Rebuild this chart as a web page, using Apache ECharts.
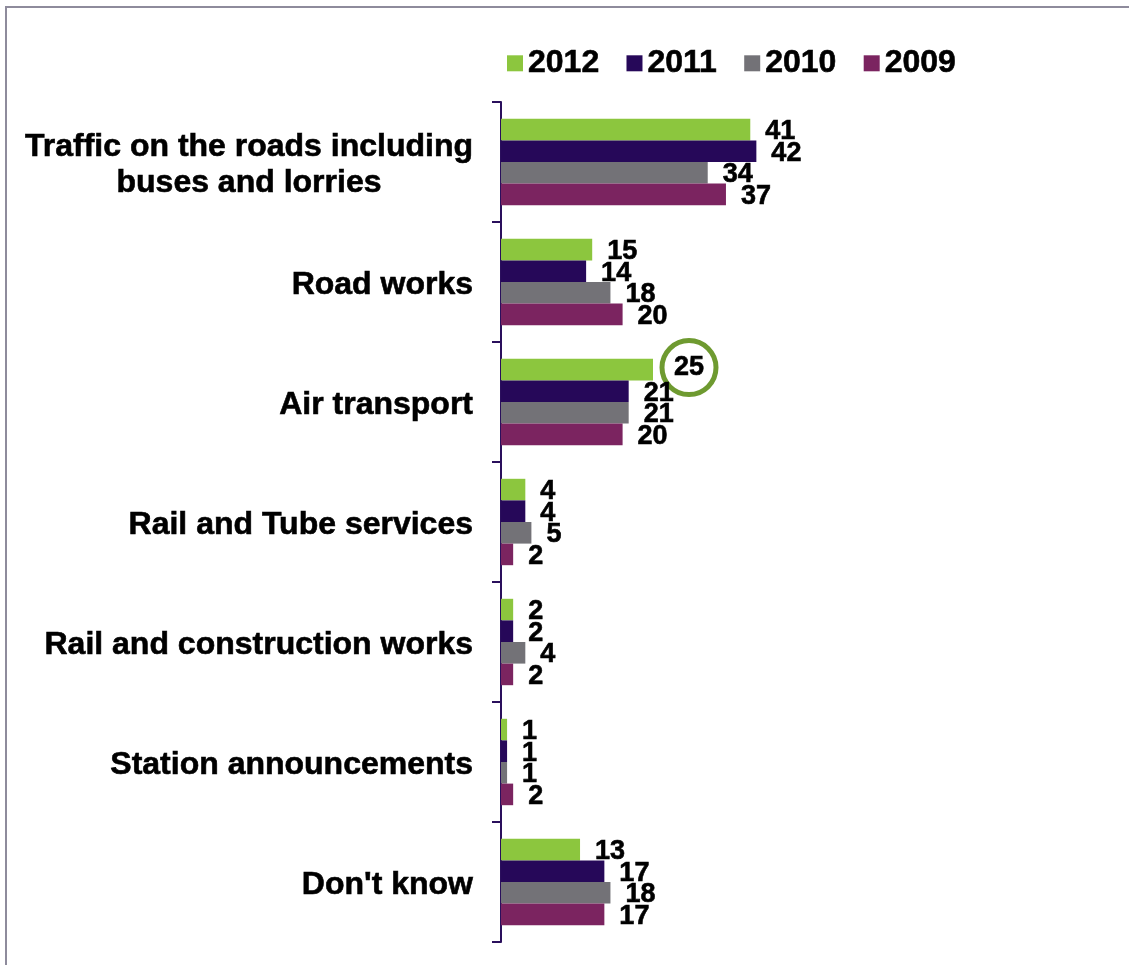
<!DOCTYPE html>
<html>
<head>
<meta charset="utf-8">
<script src="https://cdn.jsdelivr.net/npm/echarts@6/dist/echarts.min.js"></script>
<style>
  html, body { margin: 0; padding: 0; background: #fff; }
  #chart { width: 1129px; height: 965px; }
</style>
</head>
<body>
<div id="chart"></div>
<script>
// Sources of noise people notice, by survey year (%)
const categories = [
  'Traffic on the roads including\nbuses and lorries',
  'Road works',
  'Air transport',
  'Rail and Tube services',
  'Rail and construction works',
  'Station announcements',
  "Don't know"
];
const years = ['2012', '2011', '2010', '2009'];
const values2012 = [41, 15, 25, 4, 2, 1, 13];
const values2011 = [42, 14, 21, 4, 2, 1, 17];
const values2010 = [34, 18, 21, 5, 4, 1, 18];
const values2009 = [37, 20, 20, 2, 2, 2, 17];
const yearColors = ['#8CC63E', '#260859', '#737277', '#7B2460'];

// The value picked out with a ring
const circledYear = '2012';
const circledCategory = 'Air transport';

const FONT = '"Liberation Sans", Arial, sans-serif';
const seriesValues = [values2012, values2011, values2010, values2009];

// bold text with a thin outline in its own colour, for a heavier weight
const heavy = { textBorderColor: '#000', textBorderWidth: 0.6 };

const chart = echarts.init(document.getElementById('chart'), null, { renderer: 'canvas' });

const series = years.map((year, si) => ({
  name: year,
  type: 'bar',
  barGap: '0%',
  barCategoryGap: '28%',
  itemStyle: { color: yearColors[si] },
  label: Object.assign({
    show: true,
    position: 'right',
    distance: 15,
    offset: [0, 2],
    color: '#000',
    fontFamily: FONT,
    fontWeight: 'bold',
    fontSize: 27
  }, heavy),
  data: seriesValues[si].map((v, ci) => {
    if (year === circledYear && categories[ci] === circledCategory) {
      return {
        value: v,
        label: {
          distance: 9,
          offset: [0, -2],
          formatter: '{ring|{c}}',
          rich: {
            ring: Object.assign({
              width: 54,
              height: 54,
              align: 'center',
              verticalAlign: 'middle',
              borderColor: '#6E9A30',
              borderWidth: 5,
              borderRadius: 27,
              color: '#000',
              fontFamily: FONT,
              fontWeight: 'bold',
              fontSize: 27
            }, heavy)
          }
        }
      };
    }
    return v;
  })
}));

chart.setOption({
  animation: false,
  backgroundColor: '#fff',
  graphic: [{
    type: 'rect',
    shape: { x: 6, y: 7, width: 1300, height: 1100 },
    style: { fill: 'none', stroke: '#8E8B9C', lineWidth: 2 },
    silent: true
  }],
  legend: {
    data: years,
    left: 502,
    top: 42,
    itemWidth: 16,
    itemHeight: 16,
    itemGap: 27,
    icon: 'rect',
    textStyle: Object.assign({
      color: '#000',
      fontFamily: FONT,
      fontWeight: 'bold',
      fontSize: 32
    }, heavy)
  },
  grid: {
    left: 501,
    top: 102,
    width: 608,
    height: 840,
    containLabel: false
  },
  xAxis: {
    type: 'value',
    min: 0,
    max: 100,
    show: false
  },
  yAxis: {
    type: 'category',
    inverse: true,
    data: categories,
    axisLine: { show: true, lineStyle: { color: '#2A0F5C', width: 2 } },
    axisTick: { show: true, length: 9, lineStyle: { color: '#2A0F5C', width: 2 } },
    axisLabel: {
      margin: 28,
      padding: [6, 0, 0, 0],
      color: '#000',
      fontFamily: FONT,
      fontWeight: 'bold',
      fontSize: 32,
      lineHeight: 36,
      formatter: (v) => v.split('\n').map(l => '{c|' + l + '}').join('\n'),
      rich: {
        c: Object.assign({
          align: 'center',
          color: '#000',
          fontFamily: FONT,
          fontWeight: 'bold',
          fontSize: 32,
          lineHeight: 36
        }, heavy)
      }
    },
    splitLine: { show: false }
  },
  series: series
});
</script>
</body>
</html>
